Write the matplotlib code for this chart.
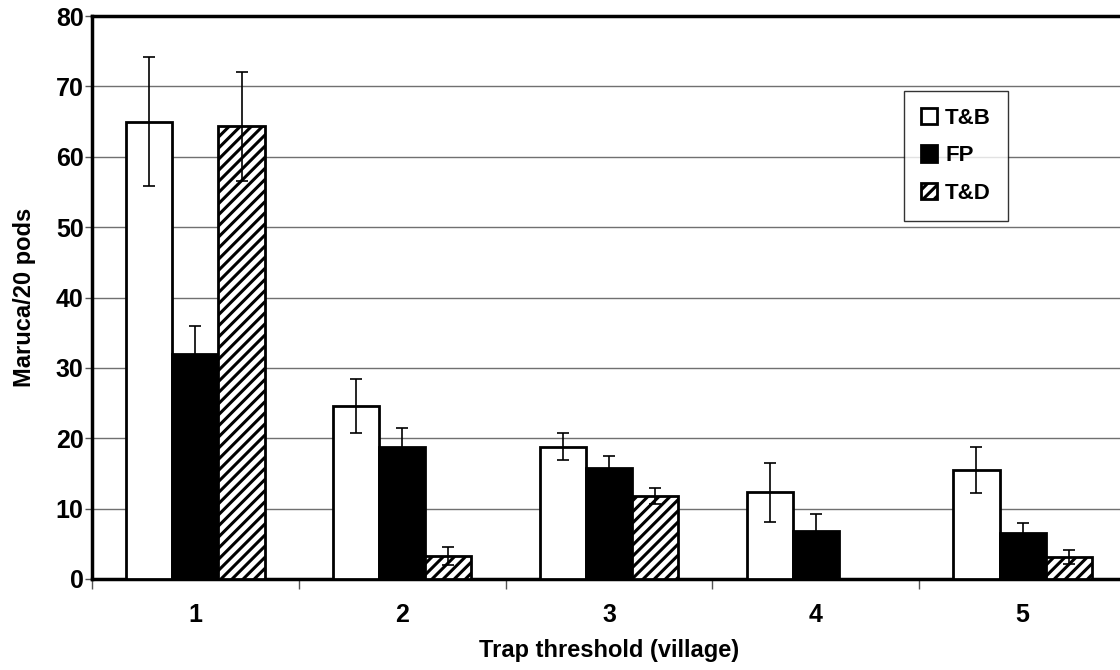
import numpy as np
import matplotlib
matplotlib.use("Agg")
import matplotlib.pyplot as plt

plt.rcParams['font.family'] = ['Liberation Sans', 'DejaVu Sans']
plt.rcParams['font.weight'] = 'bold'
plt.rcParams['hatch.linewidth'] = 2.2

# data
villages = ["1", "2", "3", "4", "5"]
series = ["T&B", "FP", "T&D"]
tb = [65.0, 24.6, 18.8, 12.3, 15.5]
tb_err = [9.2, 3.8, 1.9, 4.2, 3.3]
fp = [32.0, 18.8, 15.8, 6.8, 6.6]
fp_err = [4.0, 2.6, 1.7, 2.4, 1.4]
td = [64.3, 3.3, 11.8, np.nan, 3.1]
td_err = [7.7, 1.3, 1.1, np.nan, 1.0]

fig = plt.figure(figsize=(11.2, 6.7), dpi=100)
ax = fig.add_axes([92 / 1120, 91 / 670, (1126 - 92) / 1120, (579 - 16) / 670])

x = np.arange(1, len(villages) + 1)
w = 0.223
styles = [dict(color="white", hatch=None),
          dict(color="black", hatch=None),
          dict(color="white", hatch="///")]
vals = [tb, fp, td]
errs = [tb_err, fp_err, td_err]

for i, (name, v, e, st) in enumerate(zip(series, vals, errs, styles)):
    pos = x + (i - 1) * w
    ax.bar(pos, v, width=w, color=st["color"], edgecolor="black",
           linewidth=2.0, hatch=st["hatch"], label=name, zorder=3)
    ax.errorbar(pos, v, yerr=e, fmt="none", ecolor="black", elinewidth=1.2,
                capsize=4, capthick=1.2, zorder=4)

ax.set_xlim(0.5, 5.5)
ax.set_ylim(0, 80)
ax.set_yticks(np.arange(0, 81, 10))
ax.yaxis.grid(True, color="#707070", linewidth=1.0, zorder=0)
ax.set_axisbelow(True)

ax.set_xticks(x)
ax.set_xticklabels(villages)
ax.set_xticks(np.arange(0.5, 5.6, 1.0), minor=True)
ax.tick_params(axis="x", which="major", length=0, pad=17, labelsize=18)
ax.tick_params(axis="x", which="minor", length=7, width=1, color="#555555")
ax.tick_params(axis="y", length=5, width=1, color="#555555", labelsize=18, pad=1)

for s in ["left", "bottom", "top"]:
    ax.spines[s].set_linewidth(2.5)
    ax.spines[s].set_color("black")
ax.spines["right"].set_visible(False)

ax.set_xlabel("Trap threshold (village)", fontsize=17, fontweight="bold", labelpad=9)
ax.set_ylabel("Maruca/20 pods", fontsize=17, fontweight="bold", labelpad=14)

leg = ax.legend(loc="upper left", bbox_to_anchor=(904 / 1120, 1 - 91 / 670),
                bbox_transform=fig.transFigure, frameon=True, fancybox=False,
                edgecolor="black", fontsize=16, handlelength=0.75, handleheight=0.75,
                handletextpad=0.35, borderpad=0.75, labelspacing=0.75,
                borderaxespad=0)
leg.get_frame().set_linewidth(1.0)
for t in leg.get_texts():
    t.set_fontweight("bold")

fig.savefig("out.png", dpi=100)
